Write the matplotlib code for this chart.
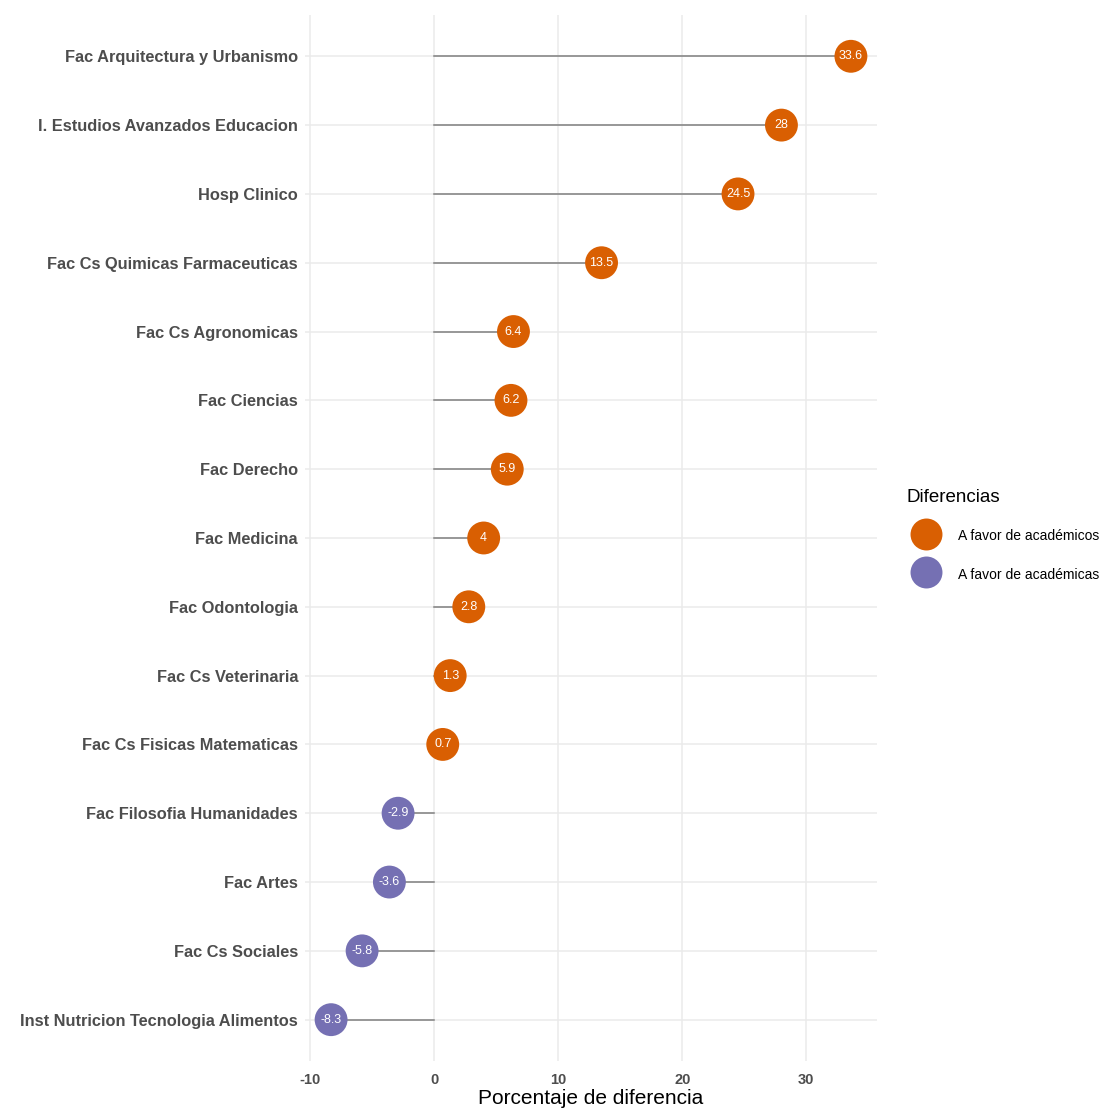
import matplotlib
matplotlib.use("Agg")
import matplotlib.pyplot as plt
from matplotlib.lines import Line2D
import numpy as np

# data, top to bottom as in the chart
units = ['Fac Arquitectura y Urbanismo', 'I. Estudios Avanzados Educacion', 'Hosp Clinico',
         'Fac Cs Quimicas Farmaceuticas', 'Fac Cs Agronomicas', 'Fac Ciencias',
         'Fac Derecho', 'Fac Medicina', 'Fac Odontologia', 'Fac Cs Veterinaria',
         'Fac Cs Fisicas Matematicas', 'Fac Filosofia Humanidades', 'Fac Artes',
         'Fac Cs Sociales', 'Inst Nutricion Tecnologia Alimentos']
diff = [33.6, 28, 24.5, 13.5, 6.4, 6.2, 5.9, 4, 2.8, 1.3, 0.7, -2.9, -3.6, -5.8, -8.3]
xticks = [-10, 0, 10, 20, 30]
legend_labels = ['A favor de académicos', 'A favor de académicas']

orange = '#D95F02'
purple = '#7570B3'

plt.rcParams['font.family'] = ['Liberation Sans', 'DejaVu Sans']

fig = plt.figure(figsize=(11.02, 11.12), dpi=100)
ax = fig.add_axes([0.2768, 0.0459, 0.5190, 0.9406])

n = len(units)
y = np.arange(n)[::-1] + 1  # first unit at top

for yi, v in zip(y, diff):
    ax.plot([0, v], [yi, yi], color='#7f7f7f', lw=1.1, zorder=2)

colors = [orange if v > 0 else purple for v in diff]
ax.scatter(diff, y, s=560, c=colors, zorder=3, linewidths=0)

for yi, v in zip(y, diff):
    lab = '{:g}'.format(v)
    ax.text(v, yi, lab, ha='center', va='center', color='white', fontsize=9, zorder=4)

ax.set_xlim(-10.4, 35.7)
ax.set_ylim(0.4, n + 0.6)
ax.set_yticks(y)
ax.set_yticklabels(units, fontsize=11.8, fontweight='bold', color='#4d4d4d')
ax.set_xticks(xticks)
ax.set_xticklabels([str(t) for t in xticks], fontsize=10.5, fontweight='bold', color='#4d4d4d')
ax.tick_params(axis='y', length=0, pad=5)
ax.tick_params(axis='x', length=0, pad=9)
ax.set_xlabel('Porcentaje de diferencia', fontsize=15, labelpad=1)

ax.grid(True, color='#ebebeb', lw=1.1, zorder=0)
ax.set_axisbelow(True)
for s in ax.spines.values():
    s.set_visible(False)

handles = [Line2D([], [], marker='o', ls='', markersize=23, color=orange, markeredgewidth=0),
           Line2D([], [], marker='o', ls='', markersize=23, color=purple, markeredgewidth=0)]
leg = fig.legend(handles, legend_labels, title='Diferencias', loc='upper left',
                 bbox_to_anchor=(907 / 1102, 1 - 489 / 1112), frameon=False, fontsize=10,
                 title_fontsize=13.5, labelspacing=1.5, handleheight=1.6,
                 handlelength=2.8, handletextpad=0.9, borderaxespad=0, borderpad=0)
leg._legend_box.align = 'left'

fig.savefig('out.png', dpi=100)
